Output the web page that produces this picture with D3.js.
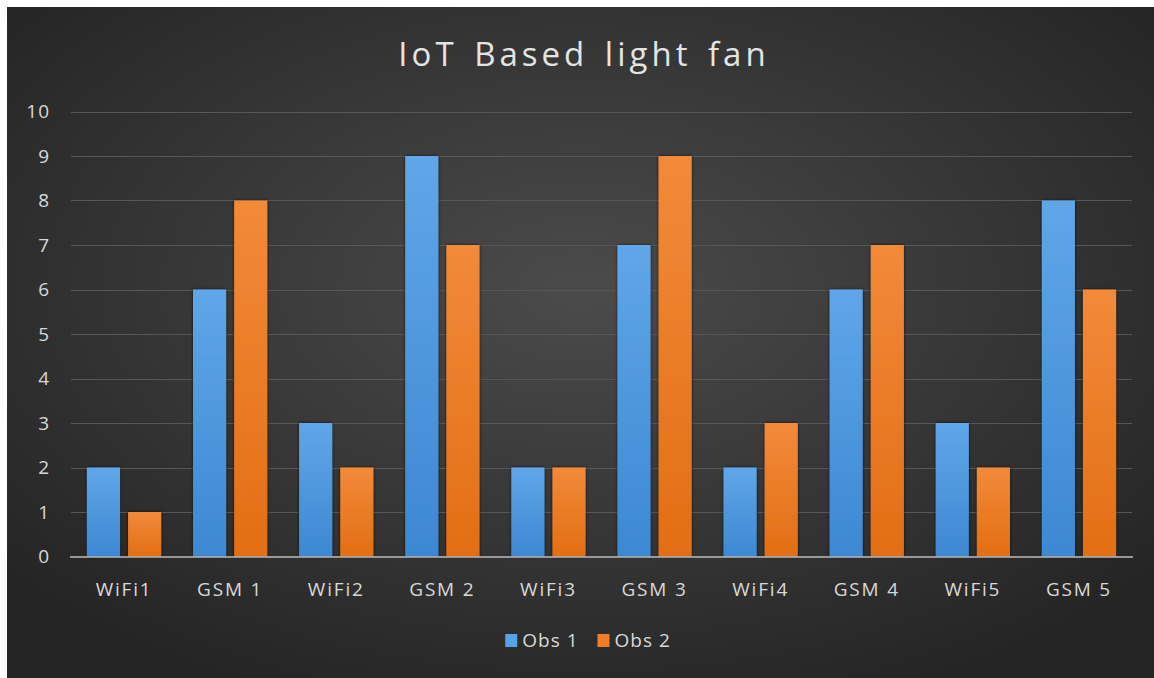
<!DOCTYPE html>
<html>
<head>
<meta charset="utf-8">
<script src="https://cdn.jsdelivr.net/npm/d3@7"></script>
<style>
  html, body { margin: 0; padding: 0; background: #ffffff; }
  svg { display: block; }
  text { font-family: "Open Sans", "DejaVu Sans", sans-serif; }
</style>
</head>
<body>
<svg id="chart" width="1154" height="678"></svg>
<script>
// Chart data
const title = "IoT Based light fan";
const categories = ["WiFi1", "GSM 1", "WiFi2", "GSM 2", "WiFi3", "GSM 3", "WiFi4", "GSM 4", "WiFi5", "GSM 5"];
const seriesNames = ["Obs 1", "Obs 2"];
const obs1 = [2, 6, 3, 9, 2, 7, 2, 6, 3, 8];
const obs2 = [1, 8, 2, 7, 2, 9, 3, 7, 2, 6];
const yTicks = [0, 1, 2, 3, 4, 5, 6, 7, 8, 9, 10];

const seriesValues = [obs1, obs2];
const rows = categories.map((c, i) => ({
  category: c,
  values: seriesNames.map((s, k) => ({ series: s, value: seriesValues[k][i] }))
}));

const W = 1154, H = 678;
const svg = d3.select("#chart");
const defs = svg.append("defs");

// Dark radial background
const bg = defs.append("radialGradient")
  .attr("id", "bgGrad")
  .attr("cx", "50%").attr("cy", "42%").attr("r", "65%");
bg.append("stop").attr("offset", "0%").attr("stop-color", "#4b4b4b");
bg.append("stop").attr("offset", "100%").attr("stop-color", "#252525");

// Bar fills: lighter on top, deeper at the base
const fills = [
  { id: "blueGrad", top: "#60a6e8", bottom: "#3d88d2" },
  { id: "orangeGrad", top: "#f28a3a", bottom: "#e36e14" }
];
fills.forEach(f => {
  const g = defs.append("linearGradient").attr("id", f.id)
    .attr("x1", 0).attr("y1", 0).attr("x2", 0).attr("y2", 1);
  g.append("stop").attr("offset", "0%").attr("stop-color", f.top);
  g.append("stop").attr("offset", "100%").attr("stop-color", f.bottom);
});
const legendColors = ["#5aa2e6", "#f07f28"];

const shadow = defs.append("filter").attr("id", "barShadow")
  .attr("x", "-20%").attr("y", "-5%").attr("width", "140%").attr("height", "110%");
shadow.append("feDropShadow")
  .attr("dx", 0).attr("dy", 0).attr("stdDeviation", 1.6)
  .attr("flood-color", "#000").attr("flood-opacity", 0.75);

svg.append("rect")
  .attr("x", 7).attr("y", 7).attr("width", W - 7).attr("height", H - 7)
  .attr("fill", "url(#bgGrad)");

// Scales
const margin = { left: 71, right: 1132, top: 111.5, bottom: 556.5 };
const x0 = d3.scaleBand()
  .domain(categories)
  .range([margin.left, margin.right])
  .paddingInner(0.3)
  .paddingOuter(0.15);
const x1 = d3.scaleBand()
  .domain(seriesNames)
  .range([0, x0.bandwidth()])
  .paddingInner(0.195)
  .paddingOuter(0);
const y = d3.scaleLinear().domain([0, 10]).range([margin.bottom, margin.top]);

// Gridlines
svg.append("g")
  .selectAll("line")
  .data(yTicks.filter(t => t > 0))
  .join("line")
  .attr("x1", margin.left).attr("x2", margin.right)
  .attr("y1", d => Math.round(y(d)) + 0.5).attr("y2", d => Math.round(y(d)) + 0.5)
  .attr("stroke", "#575757").attr("stroke-width", 1);

// Y axis labels
const yAxis = svg.append("g")
  .attr("transform", `translate(${margin.left},0)`)
  .call(d3.axisLeft(y).tickValues(yTicks).tickSize(0).tickPadding(21).tickFormat(d3.format("d")));
yAxis.select(".domain").remove();
yAxis.selectAll("text")
  .attr("fill", "#d9d9d9")
  .style("font-size", "19px")
  .style("letter-spacing", "1px")
  .style("font-family", '"Open Sans", sans-serif');

// Bars
const groups = svg.append("g")
  .selectAll("g")
  .data(rows)
  .join("g")
  .attr("transform", d => `translate(${x0(d.category)},0)`);

groups.selectAll("rect")
  .data(d => d.values)
  .join("rect")
  .attr("x", d => x1(d.series))
  .attr("width", x1.bandwidth())
  .attr("y", d => y(d.value))
  .attr("height", d => y(0) - y(d.value))
  .attr("fill", (d, i) => `url(#${fills[i].id})`)
  .attr("filter", "url(#barShadow)");

// Category axis
const xAxis = svg.append("g")
  .attr("transform", `translate(0,${margin.bottom})`)
  .call(d3.axisBottom(x0).tickSize(0).tickPadding(26));
xAxis.select(".domain")
  .attr("d", `M${margin.left - 1},0.5H${margin.right + 1}`)
  .attr("stroke", "#bdbdbd").attr("stroke-width", 1.5);
xAxis.selectAll("text")
  .attr("fill", "#d9d9d9")
  .style("font-size", "19px")
  .style("letter-spacing", "1.8px")
  .style("font-family", '"Open Sans", sans-serif');

// Title
svg.append("text")
  .attr("x", 584).attr("y", 66)
  .attr("text-anchor", "middle")
  .attr("fill", "#e4e4e4")
  .style("font-size", "33px")
  .style("font-weight", 400)
  .style("letter-spacing", "4px")
  .style("word-spacing", "4px")
  .text(title);

// Legend
const legend = svg.append("g");
const items = legend.selectAll("g")
  .data(seriesNames)
  .join("g");
items.append("rect")
  .attr("width", 12).attr("height", 13)
  .attr("y", -13)
  .attr("fill", (d, i) => legendColors[i]);
items.append("text")
  .attr("x", 17).attr("y", 0)
  .attr("fill", "#d9d9d9")
  .style("font-size", "19px")
  .style("letter-spacing", "1px")
  .text(d => d);
let cursor = 0;
const widths = [];
items.each(function () {
  const w = 17 + this.querySelector("text").getComputedTextLength();
  widths.push(w);
});
const gap = 19;
const total = d3.sum(widths) + gap * (widths.length - 1);
const startX = 588 - total / 2;
items.attr("transform", (d, i) => {
  const tx = startX + cursor;
  cursor += widths[i] + gap;
  return `translate(${tx},647)`;
});
</script>
</body>
</html>
